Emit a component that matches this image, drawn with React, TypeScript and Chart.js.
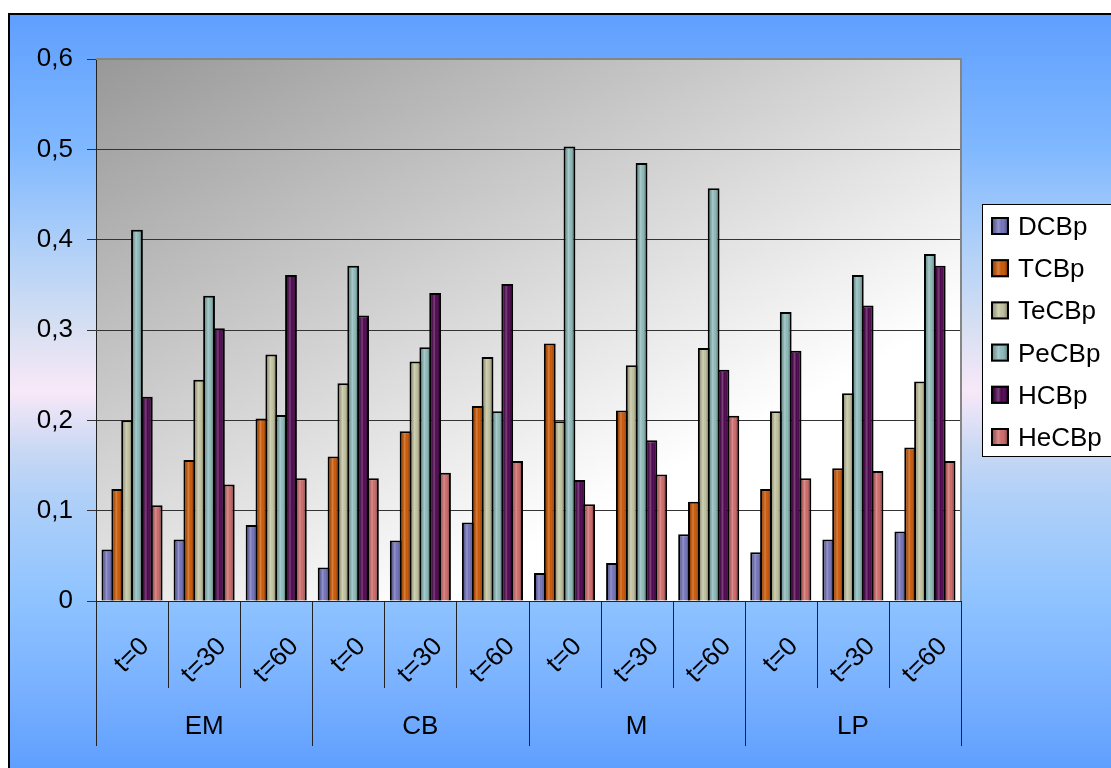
import React, { useEffect, useRef } from "react";
import { Chart, registerables } from "chart.js";

Chart.register(...registerables);

// Sampling groups and time points (category axis: group × time)
const groups = ["EM", "CB", "M", "LP"];
const times = ["t=0", "t=30", "t=60"];
const categories = groups.flatMap((g) => times.map((t) => `${g} ${t}`));

// Y axis tick labels (decimal comma)
const yTickLabels = ["0", "0,1", "0,2", "0,3", "0,4", "0,5", "0,6"];

// Congener series
const seriesNames = ["DCBp", "TCBp", "TeCBp", "PeCBp", "HCBp", "HeCBp"];
const dcbp = [0.057, 0.068, 0.084, 0.037, 0.067, 0.087, 0.031, 0.042, 0.074, 0.054, 0.068, 0.077];
const tcbp = [0.124, 0.156, 0.202, 0.16, 0.188, 0.216, 0.285, 0.211, 0.11, 0.124, 0.147, 0.17];
const tecbp = [0.2, 0.245, 0.273, 0.241, 0.265, 0.27, 0.199, 0.261, 0.28, 0.21, 0.23, 0.243];
const pecbp = [0.411, 0.338, 0.206, 0.371, 0.281, 0.21, 0.503, 0.485, 0.457, 0.32, 0.361, 0.384];
const hcbp = [0.226, 0.302, 0.361, 0.316, 0.341, 0.351, 0.134, 0.178, 0.256, 0.277, 0.327, 0.371];
const hecbp = [0.106, 0.129, 0.136, 0.136, 0.142, 0.155, 0.107, 0.14, 0.205, 0.136, 0.144, 0.155];
const seriesValues = [dcbp, tcbp, tecbp, pecbp, hcbp, hecbp];
const seriesColors = ["#7070b8", "#c85400", "#c0c09c", "#8cb8b8", "#4a004a", "#cc6666"];

const FONT = '"Liberation Sans", Arial, sans-serif';
const FONT_SIZE = 26;
const BAR_BORDER = 2;

function shade(ctx: CanvasRenderingContext2D, l: number, t: number, w: number, h: number) {
  if (w <= 0 || h <= 0) return;
  const g = ctx.createLinearGradient(l, 0, l + w, 0);
  g.addColorStop(0, "rgba(0,0,0,0.18)");
  g.addColorStop(0.38, "rgba(255,255,255,0.26)");
  g.addColorStop(0.6, "rgba(255,255,255,0.02)");
  g.addColorStop(1, "rgba(0,0,0,0.3)");
  ctx.fillStyle = g;
  ctx.fillRect(l, t, w, h);
}

// Frame, blue backdrop and grey plot-area gradient
const backdropPlugin = {
  id: "backdrop",
  beforeDraw(chart: any) {
    const { ctx, width, height, chartArea: a } = chart;
    ctx.save();
    ctx.fillStyle = "#ffffff";
    ctx.fillRect(0, 0, width, height);
    const bg = ctx.createLinearGradient(0, 6, 0, height);
    bg.addColorStop(0, "#5f9ffe");
    bg.addColorStop(0.18, "#80b8ff");
    bg.addColorStop(0.31, "#b0d0f8");
    bg.addColorStop(0.42, "#d8e0f2");
    bg.addColorStop(0.5, "#f8e8f8");
    bg.addColorStop(0.58, "#c8d8f4");
    bg.addColorStop(0.64, "#b0d0f8");
    bg.addColorStop(0.77, "#90c4ff");
    bg.addColorStop(0.9, "#78b0ff");
    bg.addColorStop(1, "#5f9ffe");
    ctx.fillStyle = bg;
    ctx.fillRect(1, 6, width, height);
    ctx.strokeStyle = "#000000";
    ctx.lineWidth = 2;
    ctx.beginPath();
    ctx.moveTo(1, height + 5);
    ctx.lineTo(1, 6);
    ctx.lineTo(width + 5, 6);
    ctx.stroke();
    const pg = ctx.createLinearGradient(a.left, a.top, a.left + 300, a.top + 560);
    pg.addColorStop(0, "#989898");
    pg.addColorStop(1, "#ffffff");
    ctx.fillStyle = pg;
    ctx.fillRect(a.left, a.top, a.right - a.left, a.bottom - a.top);
    ctx.restore();
  },
};

// Cylinder-like shading on each bar
const barShadePlugin = {
  id: "barShade",
  afterDatasetsDraw(chart: any) {
    const { ctx } = chart;
    ctx.save();
    chart.data.datasets.forEach((_: any, di: number) => {
      const meta = chart.getDatasetMeta(di);
      meta.data.forEach((el: any) => {
        const { x, y, base, width } = el.getProps(["x", "y", "base", "width"], true);
        const l = x - width / 2 + BAR_BORDER;
        const r = x + width / 2 - BAR_BORDER;
        const t = y + BAR_BORDER;
        shade(ctx, l, t, r - l, base - t);
      });
    });
    ctx.restore();
  },
};

// Plot border, two-level category axis and legend box
const overlayPlugin = {
  id: "overlay",
  afterDraw(chart: any) {
    const { ctx, chartArea: a } = chart;
    const xs = chart.scales.x;
    ctx.save();

    // grey top/right plot border
    ctx.strokeStyle = "#858585";
    ctx.lineWidth = 2;
    ctx.beginPath();
    ctx.moveTo(a.left, a.top);
    ctx.lineTo(a.right, a.top);
    ctx.lineTo(a.right, a.bottom);
    ctx.stroke();

    // category dividers
    const n = categories.length;
    const cw = (xs.right - xs.left) / n;
    ctx.strokeStyle = "#222222";
    ctx.lineWidth = 1;
    for (let i = 0; i <= n; i++) {
      const bx = Math.round(xs.left + i * cw) + 0.5;
      const len = i % times.length === 0 ? 145 : 87;
      ctx.beginPath();
      ctx.moveTo(bx, a.bottom);
      ctx.lineTo(bx, a.bottom + len);
      ctx.stroke();
    }

    // rotated time labels
    ctx.fillStyle = "#000000";
    ctx.font = `${FONT_SIZE}px ${FONT}`;
    for (let i = 0; i < n; i++) {
      const label = times[i % times.length];
      const cx = xs.getPixelForValue(i);
      const w = ctx.measureText(label).width;
      const cy = a.bottom + 35 + (w + 18) / (2 * Math.SQRT2);
      ctx.save();
      ctx.translate(cx, cy);
      ctx.rotate(-Math.PI / 4);
      ctx.textAlign = "center";
      ctx.textBaseline = "middle";
      ctx.fillText(label, 0, 0);
      ctx.restore();
    }

    // group labels
    ctx.textAlign = "center";
    ctx.textBaseline = "middle";
    groups.forEach((g, gi) => {
      const first = xs.getPixelForValue(gi * times.length);
      const last = xs.getPixelForValue(gi * times.length + times.length - 1);
      ctx.fillText(g, (first + last) / 2, a.bottom + 126);
    });

    // legend
    const lx = a.right + 21;
    const ly = a.top + 145;
    ctx.fillStyle = "#ffffff";
    ctx.fillRect(lx, ly, 200, 252);
    ctx.strokeStyle = "#000000";
    ctx.lineWidth = 1;
    ctx.strokeRect(lx + 0.5, ly + 0.5, 200, 252);
    ctx.textAlign = "left";
    ctx.textBaseline = "alphabetic";
    seriesNames.forEach((name, i) => {
      const cy = ly + 22 + i * 42.2;
      const sx = lx + 9;
      ctx.fillStyle = seriesColors[i];
      ctx.fillRect(sx, cy - 9, 18, 18);
      shade(ctx, sx + 2, cy - 7, 14, 14);
      ctx.strokeStyle = "#000000";
      ctx.lineWidth = 2;
      ctx.strokeRect(sx + 1, cy - 8, 16, 16);
      ctx.fillStyle = "#000000";
      ctx.font = `${FONT_SIZE}px ${FONT}`;
      ctx.fillText(name, sx + 27, cy + 9);
    });

    ctx.restore();
  },
};

export default function App() {
  const canvasRef = useRef<HTMLCanvasElement | null>(null);

  useEffect(() => {
    const canvas = canvasRef.current;
    if (!canvas) return;
    const chart = new Chart(canvas, {
      type: "bar",
      data: {
        labels: categories,
        datasets: seriesNames.map((name, i) => ({
          label: name,
          data: seriesValues[i],
          backgroundColor: seriesColors[i],
          borderColor: "#000000",
          borderWidth: BAR_BORDER,
          categoryPercentage: 0.82,
          barPercentage: 1.2,
        })),
      },
      options: {
        responsive: false,
        animation: false,
        events: [],
        layout: { padding: { left: 0, top: 51, right: 150, bottom: 167 } },
        plugins: {
          legend: { display: false },
          tooltip: { enabled: false },
          title: { display: false },
        },
        scales: {
          x: {
            type: "category",
            ticks: { display: false },
            grid: { display: false },
            border: { display: true, color: "#222222", width: 1 },
            afterFit: (s: any) => {
              s.height = 0;
            },
          },
          y: {
            min: 0,
            max: 0.6,
            ticks: {
              stepSize: 0.1,
              padding: 14,
              color: "#000000",
              font: { family: FONT, size: FONT_SIZE },
              callback: (_v: any, i: number) => yTickLabels[i],
            },
            grid: { color: "#333333", lineWidth: 1, tickLength: 9, drawTicks: true },
            border: { display: true, color: "#222222", width: 1 },
            afterFit: (s: any) => {
              s.width = 88;
            },
          },
        },
      },
      plugins: [backdropPlugin, barShadePlugin, overlayPlugin],
    });
    return () => chart.destroy();
  }, []);

  return (
    <canvas
      ref={canvasRef}
      width={1103}
      height={760}
      style={{ position: "fixed", left: 8, top: 8, display: "block" }}
    />
  );
}
